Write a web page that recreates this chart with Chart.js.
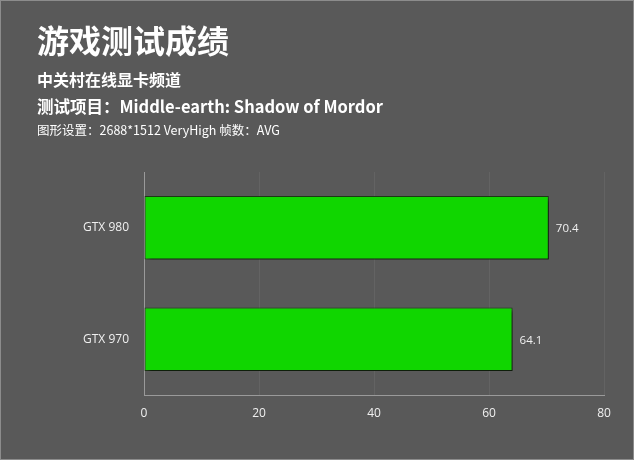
<!DOCTYPE html>
<html>
<head>
<meta charset="utf-8">
<script src="https://cdn.jsdelivr.net/npm/chart.js@4"></script>
<style>
  html, body { margin: 0; padding: 0; background: #595959; }
  #wrap { position: relative; width: 634px; height: 460px; box-sizing: border-box; border: 1px solid #8c8c8c; overflow: hidden; }
  #chart { position: absolute; left: 0; top: 0; }
  .t { position: absolute; left: 36px; color: #fff; font-family: "Noto Sans CJK SC", "Noto Sans", sans-serif; white-space: nowrap; }
  #title { top: 15px; font-size: 32px; font-weight: bold; }
  #sub { top: 66px; font-size: 16px; font-weight: bold; }
  #game { top: 93px; font-size: 16.5px; font-weight: bold; }
  #setting { top: 119px; font-size: 12.5px; }
</style>
</head>
<body>
<div id="wrap">
  <canvas id="chart" width="634" height="460"></canvas>
  <div class="t" id="title">游戏测试成绩</div>
  <div class="t" id="sub">中关村在线显卡频道</div>
  <div class="t" id="game">测试项目：Middle-earth: Shadow of Mordor</div>
  <div class="t" id="setting">图形设置：2688*1512 VeryHigh 帧数：AVG</div>
</div>
<script>
const cards = ["GTX 980", "GTX 970"];
const fps = [70.4, 64.1];
const xTicks = [0, 20, 40, 60, 80];

// shadow under bars
const barShadow = {
  id: "barShadow",
  beforeDatasetDraw(chart) {
    const ctx = chart.ctx;
    ctx.save();
    ctx.shadowColor = "rgba(0,0,0,0.55)";
    ctx.shadowOffsetX = 3;
    ctx.shadowOffsetY = 3;
    ctx.shadowBlur = 3;
  },
  afterDatasetDraw(chart) {
    chart.ctx.restore();
  }
};

// value next to the bar end
const valueLabels = {
  id: "valueLabels",
  afterDatasetsDraw(chart) {
    const ctx = chart.ctx;
    const meta = chart.getDatasetMeta(0);
    ctx.save();
    ctx.fillStyle = "#f0f0f0";
    ctx.font = "11.5px 'Open Sans', 'Noto Sans', sans-serif";
    ctx.textBaseline = "middle";
    meta.data.forEach((bar, i) => {
      ctx.fillText(fps[i].toFixed(1), bar.x + 7, bar.y + 1);
    });
    ctx.restore();
  }
};

new Chart(document.getElementById("chart"), {
  type: "bar",
  data: {
    labels: cards,
    datasets: [{
      data: fps,
      backgroundColor: "#10d600",
      borderColor: "#1c3a14",
      borderWidth: 1,
      borderSkipped: false,
      barPercentage: 0.57,
      categoryPercentage: 1
    }]
  },
  options: {
    indexAxis: "y",
    responsive: false,
    animation: false,
    layout: { padding: { left: 0, right: 31, top: 171, bottom: 0 } },
    plugins: {
      legend: { display: false },
      tooltip: { enabled: false }
    },
    scales: {
      x: {
        min: 0,
        max: 80,
        afterBuildTicks(scale) {
          scale.ticks = xTicks.map(v => ({ value: v }));
        },
        afterFit(scale) { scale.height = 66; },
        grid: { color: "#636363", drawTicks: false },
        border: { color: "#9a9a9a", width: 1 },
        ticks: {
          color: "#f0f0f0",
          padding: 11,
          font: { family: "'Open Sans', 'Noto Sans', sans-serif", size: 12 }
        }
      },
      y: {
        afterFit(scale) { scale.width = 143; },
        grid: { display: false },
        border: { display: true, color: "#9a9a9a", width: 1 },
        ticks: {
          color: "#f0f0f0",
          padding: 7,
          font: { family: "'Open Sans', 'Noto Sans', sans-serif", size: 12 }
        }
      }
    }
  },
  plugins: [barShadow, valueLabels]
});
</script>
</body>
</html>
